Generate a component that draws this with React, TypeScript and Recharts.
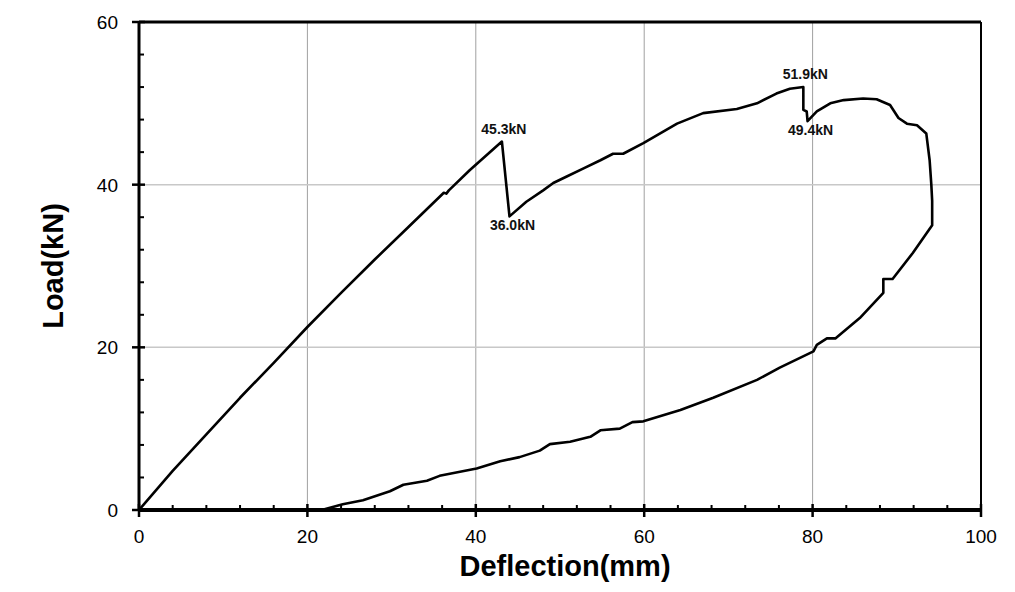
import React from 'react'
import {
  ScatterChart,
  Scatter,
  XAxis,
  YAxis,
  ReferenceLine,
  ReferenceDot,
  Label,
} from 'recharts'

const deflection = [
  0, 4, 8, 12, 16, 20, 24, 28, 32, 36.2, 36.5, 36.8, 39.3, 43.1,
  44.0, 46.0, 48.0, 49.2, 50.8, 52.8, 54.8, 56.3, 57.5, 59.9, 61.9, 63.9, 67.0, 71.0, 73.4, 75.7, 77.3, 78.9,
  78.9, 79.3, 79.4, 80.5, 82.1, 83.7, 86.0, 87.6, 89.2, 90.2, 91.2, 92.4, 93.5, 93.9, 94.1, 94.2, 94.2,
  91.9, 89.5, 88.4, 88.4, 85.6, 82.7, 81.7, 80.5, 80.1, 76.1, 73.4, 68.2, 64.3, 59.9, 58.6, 57.1, 54.8, 53.6,
  51.2, 48.8, 47.6, 45.2, 42.9, 40.1, 35.7, 34.2, 31.4, 29.8, 26.6, 24.2, 21.7,
]
const load = [
  0, 4.8, 9.3, 13.8, 18.1, 22.5, 26.7, 30.8, 34.8, 39.0, 38.9, 39.3, 41.8, 45.3,
  36.1, 37.9, 39.3, 40.2, 41.0, 42.0, 43.0, 43.8, 43.8, 45.1, 46.3, 47.5, 48.8, 49.3, 50.0, 51.2, 51.8, 52.0,
  49.2, 49.0, 47.8, 49.0, 50.0, 50.4, 50.6, 50.5, 49.8, 48.2, 47.5, 47.3, 46.3, 43.0, 40.0, 38.0, 35.0,
  31.6, 28.4, 28.4, 26.7, 23.6, 21.1, 21.1, 20.3, 19.5, 17.5, 16.0, 13.8, 12.3, 10.9, 10.8, 10.0, 9.8, 9.0,
  8.4, 8.1, 7.3, 6.5, 6.0, 5.1, 4.2, 3.6, 3.1, 2.3, 1.2, 0.7, 0,
]

const xTicks = [0, 4, 8, 12, 16, 20, 24, 28, 32, 36, 40, 44, 48, 52, 56, 60, 64, 68, 72, 76, 80, 84, 88, 92, 96, 100]
const yTicks = [0, 4, 8, 12, 16, 20, 24, 28, 32, 36, 40, 44, 48, 52, 56, 60]
const xGrid = [20, 40, 60, 80]
const yGrid = [20, 40]

// annotated peaks/drops: [deflection, load, text]
const peakLabels: [number, number, string][] = [
  [43.1, 45.3, '45.3kN'],
  [78.9, 52.0, '51.9kN'],
]
const dropLabels: [number, number, string][] = [
  [44.0, 36.1, '36.0kN'],
  [79.4, 47.8, '49.4kN'],
]

const data = deflection.map((d, i) => ({ x: d, y: load[i] }))

const tickFont = '"Liberation Sans", Arial, sans-serif'

const XTick = ({ x, y, payload }: any) => {
  const major = payload.value % 20 === 0
  return (
    <g>
      {major ? (
        <line x1={x} x2={x} y1={y - 6} y2={y + 7} stroke="#000" strokeWidth={2.5} />
      ) : (
        <line x1={x} x2={x} y1={y - 5} y2={y} stroke="#000" strokeWidth={2} />
      )}
      {major && (
        <text x={x} y={y + 33} textAnchor="middle" fontSize={19} fontFamily={tickFont} fill="#000">
          {payload.value}
        </text>
      )}
    </g>
  )
}

const YTick = ({ x, y, payload }: any) => {
  const major = payload.value % 20 === 0
  return (
    <g>
      {major ? (
        <line x1={x - 7} x2={x + 6} y1={y} y2={y} stroke="#000" strokeWidth={2.5} />
      ) : (
        <line x1={x} x2={x + 5} y1={y} y2={y} stroke="#000" strokeWidth={2} />
      )}
      {major && (
        <text x={x - 21} y={y + 7} textAnchor="end" fontSize={19} fontFamily={tickFont} fill="#000">
          {payload.value}
        </text>
      )}
    </g>
  )
}

const noDot = () => <g />

export default function App() {
  return (
    <div style={{ position: 'relative', width: 1000, height: 576 }}>
      <ScatterChart
        width={1000}
        height={576}
        margin={{ top: 14, right: 27, left: 0, bottom: 0 }}
      >
        {xGrid.map((v) => (
          <ReferenceLine key={'gx' + v} x={v} stroke="#a0a0a0" strokeWidth={1} />
        ))}
        {yGrid.map((v) => (
          <ReferenceLine key={'gy' + v} y={v} stroke="#c8c8c8" strokeWidth={1.5} />
        ))}
        <ReferenceLine y={60} stroke="#000" strokeWidth={3} />
        <ReferenceLine x={100} stroke="#000" strokeWidth={2} />

        <XAxis
          type="number"
          dataKey="x"
          domain={[0, 100]}
          ticks={xTicks}
          interval={0}
          height={74}
          tickSize={0}
          tickMargin={0}
          tickLine={false}
          axisLine={{ stroke: '#000', strokeWidth: 4 }}
          tick={<XTick />}
          allowDataOverflow
        />
        <YAxis
          type="number"
          dataKey="y"
          domain={[0, 60]}
          ticks={yTicks}
          interval={0}
          width={131}
          tickSize={0}
          tickMargin={0}
          tickLine={false}
          axisLine={{ stroke: '#000', strokeWidth: 3 }}
          tick={<YTick />}
          allowDataOverflow
        />

        <Scatter
          data={data}
          line={{ stroke: '#000', strokeWidth: 2.6, strokeLinejoin: 'round' }}
          lineType="joint"
          shape={noDot}
          fill="none"
          isAnimationActive={false}
        />

        {peakLabels.map(([px, py, t]) => (
          <ReferenceDot key={t} x={px} y={py} r={0} stroke="none" fill="none">
            <Label
              value={t}
              position="top"
              offset={8}
              dx={2}
              style={{ fontSize: 14, fontWeight: 700, fontFamily: tickFont, fill: '#111' }}
            />
          </ReferenceDot>
        ))}
        {dropLabels.map(([px, py, t]) => (
          <ReferenceDot key={t} x={px} y={py} r={0} stroke="none" fill="none">
            <Label
              value={t}
              position="bottom"
              offset={4}
              dx={3}
              style={{ fontSize: 14, fontWeight: 700, fontFamily: tickFont, fill: '#111' }}
            />
          </ReferenceDot>
        ))}
      </ScatterChart>

      <div
        style={{
          position: 'absolute',
          left: 45,
          top: 258,
          transform: 'translate(-50%, -50%) rotate(-90deg)',
          fontFamily: tickFont,
          fontWeight: 700,
          fontSize: 29,
          whiteSpace: 'nowrap',
          color: '#000',
        }}
      >
        Load(kN)
      </div>
      <div
        style={{
          position: 'absolute',
          left: 557,
          top: 558,
          transform: 'translate(-50%, -50%)',
          fontFamily: tickFont,
          fontWeight: 700,
          fontSize: 29,
          whiteSpace: 'nowrap',
          color: '#000',
        }}
      >
        Deflection(mm)
      </div>
    </div>
  )
}
